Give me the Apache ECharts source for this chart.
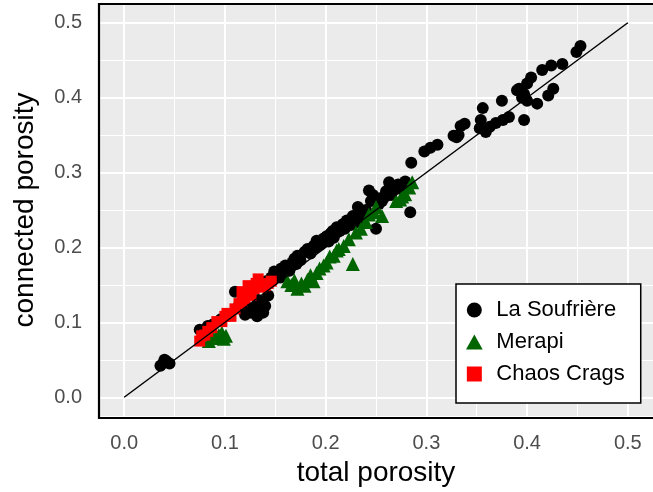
<!DOCTYPE html>
<html>
<head>
<meta charset="utf-8">
<script src="https://cdn.jsdelivr.net/npm/echarts@6/dist/echarts.min.js"></script>
<style>
  html, body { margin: 0; padding: 0; background: #fff; }
  #chart { width: 653px; height: 492px; }
</style>
</head>
<body>
<div id="chart"></div>
<script>
// 데이터: [total porosity, connected porosity]
var soufriere = [
  [0.036, 0.042], [0.039, 0.046], [0.042, 0.048], [0.045, 0.045], [0.040, 0.050],
  [0.075, 0.090], [0.079, 0.087], [0.083, 0.095], [0.088, 0.097], [0.096, 0.104],
  [0.110, 0.141], [0.114, 0.123], [0.118, 0.116], [0.120, 0.110], [0.123, 0.119],
  [0.126, 0.113], [0.130, 0.121], [0.133, 0.130], [0.136, 0.128], [0.140, 0.122],
  [0.143, 0.136], [0.138, 0.113], [0.132, 0.108],
  [0.141, 0.155], [0.146, 0.160], [0.148, 0.157], [0.149, 0.168], [0.152, 0.163],
  [0.155, 0.160], [0.156, 0.172], [0.158, 0.165], [0.160, 0.176], [0.164, 0.169],
  [0.167, 0.180], [0.169, 0.185], [0.171, 0.178], [0.172, 0.189], [0.175, 0.183],
  [0.179, 0.194], [0.182, 0.198], [0.185, 0.192], [0.186, 0.197], [0.188, 0.202],
  [0.190, 0.200], [0.191, 0.209], [0.195, 0.204], [0.198, 0.212], [0.201, 0.215],
  [0.203, 0.208], [0.205, 0.219], [0.207, 0.222], [0.208, 0.213], [0.211, 0.227],
  [0.214, 0.222], [0.217, 0.231], [0.219, 0.225], [0.221, 0.236], [0.225, 0.230],
  [0.227, 0.242], [0.229, 0.233], [0.232, 0.254], [0.235, 0.247], [0.237, 0.238],
  [0.240, 0.250], [0.243, 0.276], [0.245, 0.262], [0.247, 0.270], [0.250, 0.225],
  [0.250, 0.266], [0.253, 0.258], [0.256, 0.262], [0.258, 0.268], [0.260, 0.275],
  [0.263, 0.287], [0.265, 0.270], [0.267, 0.280], [0.269, 0.279], [0.272, 0.284],
  [0.275, 0.278], [0.279, 0.288], [0.284, 0.247], [0.285, 0.313],
  [0.298, 0.328], [0.304, 0.333], [0.311, 0.337], [0.327, 0.349], [0.330, 0.347],
  [0.334, 0.362], [0.332, 0.350], [0.338, 0.365],
  [0.353, 0.359], [0.354, 0.370], [0.356, 0.386], [0.359, 0.354], [0.363, 0.361],
  [0.369, 0.366], [0.375, 0.396], [0.376, 0.370], [0.382, 0.374], [0.390, 0.410],
  [0.392, 0.412], [0.395, 0.400], [0.397, 0.405], [0.397, 0.370], [0.400, 0.396],
  [0.400, 0.419], [0.404, 0.427], [0.410, 0.392], [0.415, 0.437], [0.421, 0.403],
  [0.424, 0.443], [0.426, 0.412], [0.435, 0.445], [0.449, 0.461], [0.453, 0.469]
];

var merapi = [
  [0.084, 0.075], [0.088, 0.080], [0.091, 0.079], [0.094, 0.083], [0.097, 0.086],
  [0.101, 0.082], [0.099, 0.078],
  [0.162, 0.155], [0.166, 0.150], [0.169, 0.156], [0.172, 0.145], [0.176, 0.152],
  [0.179, 0.149], [0.182, 0.157], [0.185, 0.163], [0.188, 0.155], [0.191, 0.166],
  [0.194, 0.172], [0.198, 0.176], [0.201, 0.180], [0.204, 0.188], [0.208, 0.189],
  [0.211, 0.196], [0.213, 0.198], [0.218, 0.202], [0.223, 0.211], [0.227, 0.178],
  [0.230, 0.220], [0.235, 0.225], [0.240, 0.234], [0.243, 0.244], [0.248, 0.247],
  [0.250, 0.254], [0.256, 0.242], [0.270, 0.262], [0.274, 0.264], [0.276, 0.268],
  [0.279, 0.271], [0.283, 0.280], [0.286, 0.287]
];

var chaosCrags = [
  [0.075, 0.075], [0.077, 0.082], [0.080, 0.083], [0.083, 0.088], [0.087, 0.093],
  [0.092, 0.101], [0.097, 0.101], [0.100, 0.108], [0.102, 0.112], [0.106, 0.108],
  [0.110, 0.118], [0.114, 0.125], [0.117, 0.128], [0.117, 0.141], [0.120, 0.132],
  [0.123, 0.149], [0.125, 0.141], [0.126, 0.136], [0.129, 0.145], [0.131, 0.152],
  [0.133, 0.158], [0.136, 0.147], [0.140, 0.149], [0.143, 0.152], [0.146, 0.155]
];

// 1:1 line
var oneToOne = [[0, 0], [0.5, 0.5]];

// tick values
var majorTicks = [0, 0.1, 0.2, 0.3, 0.4, 0.5];
var minorTicks = [0.05, 0.15, 0.25, 0.35, 0.45];

var FONT = 'Liberation Sans, Arial, Helvetica, sans-serif';

var gridLines = [];
majorTicks.forEach(function (v) {
  gridLines.push({ xAxis: v, lineStyle: { color: '#fff', type: 'solid', width: 2 } });
  gridLines.push({ yAxis: v, lineStyle: { color: '#fff', type: 'solid', width: 2 } });
});
minorTicks.forEach(function (v) {
  gridLines.push({ xAxis: v, lineStyle: { color: '#fff', type: 'solid', width: 1 } });
  gridLines.push({ yAxis: v, lineStyle: { color: '#fff', type: 'solid', width: 1 } });
});

function axisCommon() {
  return {
    type: 'value',
    min: -0.025,
    max: 0.525,
    axisLine: { show: false },
    splitLine: { show: false },
    axisTick: {
      show: true,
      length: 6,
      customValues: majorTicks,
      lineStyle: { color: '#333333', width: 2 }
    },
    axisLabel: {
      customValues: majorTicks,
      color: '#4D4D4D',
      fontFamily: FONT,
      fontSize: 20,
      formatter: function (v) { return v.toFixed(1); }
    },
    nameLocation: 'middle',
    nameTextStyle: { color: '#000', fontFamily: FONT, fontSize: 28 }
  };
}

var xAxis = axisCommon();
xAxis.name = 'total porosity';
xAxis.nameGap = 43;
xAxis.axisLabel.margin = 17;

var yAxis = axisCommon();
yAxis.name = 'connected porosity';
yAxis.nameGap = 60;
yAxis.axisLabel.margin = 17;

// legend icons (path, keeps aspect)
var iconCircle = 'path://M5,0A5,5,0,1,1,5,10A5,5,0,1,1,5,0Z';
var iconTriangle = 'path://M5,0L10,9L0,9Z';
var iconSquare = 'path://M1.5,1.5L8.5,1.5L8.5,8.5L1.5,8.5Z';

var chart = echarts.init(document.getElementById('chart'));

var option = {
  animation: false,
  grid: {
    left: 99,
    top: 4,
    right: -11,
    bottom: 74,
    show: true,
    backgroundColor: '#EBEBEB',
    borderWidth: 0
  },
  graphic: [{
    type: 'rect',
    z: 100,
    silent: true,
    shape: { x: 99, y: 4, width: 565, height: 414 },
    style: { fill: 'none', stroke: '#000', lineWidth: 2.2 }
  }],
  xAxis: xAxis,
  yAxis: yAxis,
  legend: {
    orient: 'vertical',
    left: 456,
    top: 284,
    z: 10,
    padding: [15, 16, 18, 10],
    itemGap: 10,
    itemWidth: 34,
    itemHeight: 15,
    symbolKeepAspect: true,
    backgroundColor: '#fff',
    borderColor: '#000',
    borderWidth: 1.5,
    borderType: 'solid',
    textStyle: { color: '#000', fontFamily: FONT, fontSize: 22, lineHeight: 22 },
    data: [
      { name: 'La Soufrière', icon: iconCircle },
      { name: 'Merapi', icon: iconTriangle },
      { name: 'Chaos Crags', icon: iconSquare }
    ]
  },
  series: [
    {
      type: 'line',
      data: [],
      silent: true,
      z: 1,
      markLine: {
        silent: true,
        z: 1,
        symbol: 'none',
        label: { show: false },
        lineStyle: { color: '#fff', type: 'solid' },
        data: gridLines
      }
    },
    {
      name: 'La Soufrière',
      type: 'scatter',
      data: soufriere,
      symbol: 'circle',
      symbolSize: 12,
      itemStyle: { color: '#000', opacity: 1 },
      z: 2
    },
    {
      name: 'Merapi',
      type: 'scatter',
      data: merapi,
      symbol: 'triangle',
      symbolSize: 14,
      itemStyle: { color: '#006400', opacity: 1 },
      z: 3
    },
    {
      name: 'Chaos Crags',
      type: 'scatter',
      data: chaosCrags,
      symbol: 'rect',
      symbolSize: 11,
      itemStyle: { color: '#FF0000', opacity: 1 },
      z: 4
    },
    {
      type: 'line',
      data: oneToOne,
      symbol: 'none',
      silent: true,
      lineStyle: { color: '#000', width: 1.5 },
      z: 5
    }
  ]
};

chart.setOption(option);
</script>
</body>
</html>
